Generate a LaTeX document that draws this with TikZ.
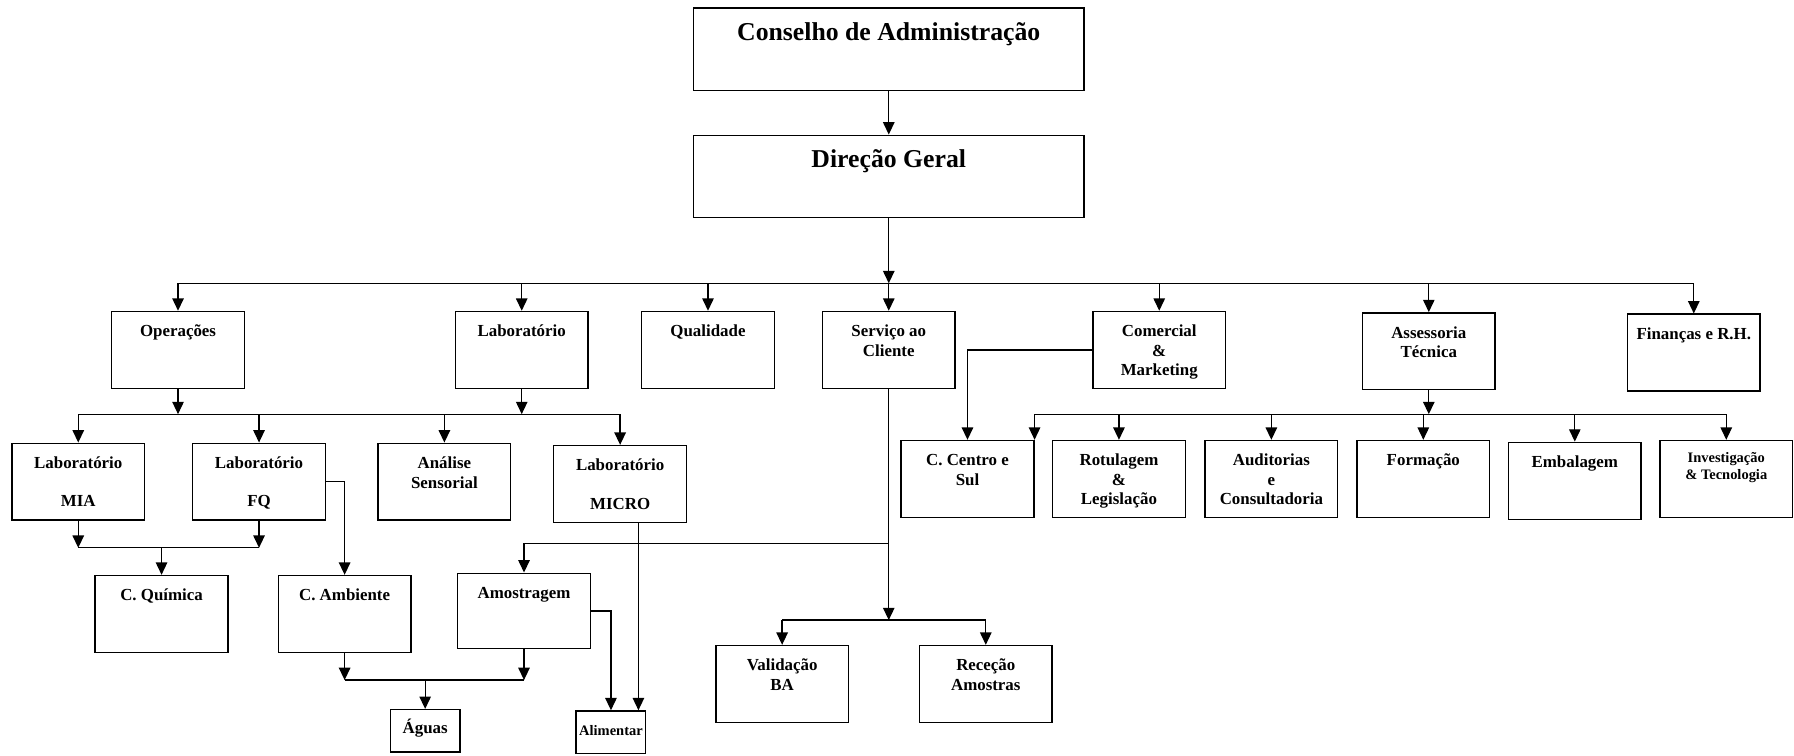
\documentclass[tikz,border=0pt]{standalone}
\usepackage{fontspec}
\setmainfont{Liberation Serif}
\usetikzlibrary{arrows.meta, positioning, calc}

\begin{document}
\begin{tikzpicture}[
    unit/.style={
        draw, line width=0.9pt, anchor=north, align=flush center,
        minimum width=2.9cm, text width=2.84cm, inner xsep=0.03cm, inner ysep=0pt,
        text height=0.55cm, text depth=1.13cm,
        font=\fontsize{10.5}{12.2}\selectfont\bfseries
    },
    board/.style={
        unit, minimum width=8.54cm, text width=8.4cm, text height=0.7cm, text depth=1.1cm,
        font=\fontsize{16}{19}\selectfont\bfseries
    },
    tiny/.style={
        unit, minimum width=1.5cm, text width=1.46cm, text height=0.53cm, text depth=0.4cm
    },
    small/.style={font=\fontsize{9}{10.8}\selectfont\bfseries},
    line/.style={line width=0.8pt},
    edge/.style={line, -{Triangle[length=0.27cm,width=0.25cm]}},
]
\useasboundingbox (0,0) rectangle (39.2,16.5);

% Nodes
\node[board] (cda) at (19.42, 16.34) {Conselho de Administração};
\node[board] (dg)  at (19.42, 13.56) {Direção Geral};

\node[unit] (ops)  at (3.89, 9.71)  {Operações};
\node[unit] (lab)  at (11.40, 9.71) {Laboratório};
\node[unit] (qual) at (15.47, 9.71) {Qualidade};
\node[unit] (svc)  at (19.42, 9.71) {Serviço ao\\Cliente};
\node[unit] (com)  at (25.33, 9.71) {Comercial\\\&\\Marketing};
\node[unit] (ass)  at (31.22, 9.68) {Assessoria\\Técnica};
\node[unit] (fin)  at (37.01, 9.65) {Finanças e R.H.};

\node[unit] (mia)   at (1.71, 6.83)  {Laboratório\\[0.41cm]MIA};
\node[unit] (fq)    at (5.66, 6.83)  {Laboratório\\[0.41cm]FQ};
\node[unit] (ana)   at (9.71, 6.83)  {Análise\\Sensorial};
\node[unit] (micro) at (13.55, 6.78) {Laboratório\\[0.41cm]MICRO};

\node[unit] (ccs)  at (21.14, 6.89) {C. Centro e\\Sul};
\node[unit] (rot)  at (24.45, 6.89) {Rotulagem\\\&\\Legislação};
\node[unit] (aud)  at (27.78, 6.89) {Auditorias\\e\\Consultadoria};
\node[unit] (form) at (31.10, 6.89) {Formação};
\node[unit] (emb)  at (34.41, 6.85) {Embalagem};
\node[unit, small, text height=0.48cm, text depth=1.2cm] (inv) at (37.72, 6.89) {Investigação\\\& Tecnologia};

\node[unit] (cq)  at (3.53, 3.94)  {C. Química};
\node[unit] (ca)  at (7.53, 3.94)  {C. Ambiente};
\node[unit, text depth=1.1cm] (amo) at (11.45, 3.99) {Amostragem};

\node[unit] (val) at (17.09, 2.41) {Validação\\BA};
\node[unit] (rec) at (21.54, 2.41) {Receção\\Amostras};

\node[tiny] (ag)  at (9.29, 1.01)  {Águas};
\node[tiny, small] (ali) at (13.35, 0.98) {Alimentar};

% Bus lines
\coordinate (b1) at (0, 10.31);
\coordinate (b2) at (0, 7.45);
\coordinate (b3) at (0, 4.53);
\coordinate (b4) at (0, 1.64);
\coordinate (b5) at (0, 2.95);
\coordinate (b6) at (0, 4.63);

% Conselho -> Direcao -> departments
\draw[edge] (cda) -- (dg);
\draw[edge] (dg.south) -- (dg.south |- b1);
\draw[line] (ops.north |- b1) -- (fin.north |- b1);
\foreach \n in {ops, lab, qual, svc, com, ass, fin}
    \draw[edge] (\n.north |- b1) -- (\n.north);

% Operacoes, Laboratorio -> laboratories
\draw[edge] (ops.south) -- (ops.south |- b2);
\draw[edge] (lab.south) -- (lab.south |- b2);
\draw[line] (mia.north |- b2) -- (micro.north |- b2);
\foreach \n in {mia, fq, ana, micro}
    \draw[edge] (\n.north |- b2) -- (\n.north);

% MIA, FQ -> C. Quimica
\draw[edge] (mia.south) -- (mia.south |- b3);
\draw[edge] (fq.south) -- (fq.south |- b3);
\draw[line] (mia.south |- b3) -- (fq.south |- b3);
\draw[edge] (cq.north |- b3) -- (cq.north);

% FQ -> C. Ambiente
\draw[edge] (fq.east) -| (ca.north);

% C. Ambiente, Amostragem -> Aguas
\draw[edge] (ca.south) -- (ca.south |- b4);
\draw[edge] (amo.south) -- (amo.south |- b4);
\draw[line] (ca.south |- b4) -- (amo.south |- b4);
\draw[edge] (ag.north |- b4) -- (ag.north);

% Amostragem, MICRO -> Alimentar
\draw[edge] (amo.east) -| (ali.north);
\coordinate (mc) at ([xshift=0.4cm]micro.south);
\draw[edge] (mc) -- (mc |- ali.north);

% Servico ao Cliente -> Amostragem, Validacao, Rececao
\draw[edge] (svc.south) -- (svc.south |- b5);
\draw[edge] (svc.south |- b6) -| (amo.north);
\draw[line] (val.north |- b5) -- (rec.north |- b5);
\draw[edge] (val.north |- b5) -- (val.north);
\draw[edge] (rec.north |- b5) -- (rec.north);

% Comercial -> C. Centro e Sul
\draw[edge] (com.west) -| (ccs.north);

% Assessoria Tecnica -> areas
\draw[edge] (ass.south) -- (ass.south |- b2);
\draw[line] (ccs.north east |- b2) -- (inv.north |- b2);
\draw[edge] (ccs.north east |- b2) -- (ccs.north east);
\foreach \n in {rot, aud, form, emb, inv}
    \draw[edge] (\n.north |- b2) -- (\n.north);

\end{tikzpicture}
\end{document}
